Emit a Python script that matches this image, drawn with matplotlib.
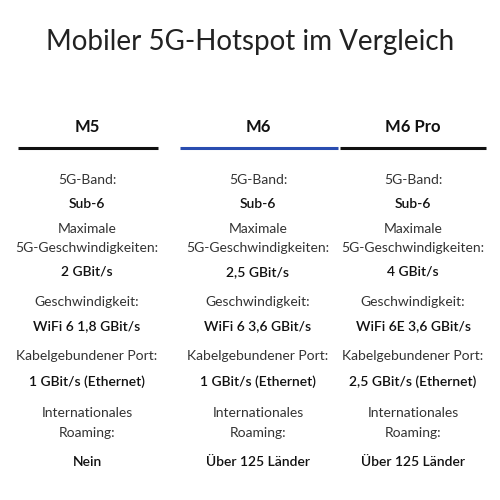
import matplotlib.pyplot as plt

plt.rcParams['font.family'] = ['Lato', 'DejaVu Sans']

title = "Mobiler 5G-Hotspot im Vergleich"
models = ["M5", "M6", "M6 Pro"]
line_colors = ["#111111", "#2a4db0", "#111111"]
labels = [["5G-Band:"], ["Maximale", "5G-Geschwindigkeiten:"], ["Geschwindigkeit:"],
          ["Kabelgebundener Port:"], ["Internationales", "Roaming:"]]
values = [
    ["Sub-6", "Sub-6", "Sub-6"],
    ["2 GBit/s", "2,5 GBit/s", "4 GBit/s"],
    ["WiFi 6 1,8 GBit/s", "WiFi 6 3,6 GBit/s", "WiFi 6E 3,6 GBit/s"],
    ["1 GBit/s (Ethernet)", "1 GBit/s (Ethernet)", "2,5 GBit/s (Ethernet)"],
    ["Nein", "Über 125 Länder", "Über 125 Länder"],
]

col_x = [87, 258, 413]
col_span = [(18, 158), (180, 338), (340, 486)]
label_y = [[180], [229, 248], [302], [356], [413, 433]]
value_y = [204, 272, 326, 382, 462]

fig = plt.figure(figsize=(5, 5), dpi=100)
ax = fig.add_axes([0, 0, 1, 1])
ax.set_xlim(0, 500)
ax.set_ylim(500, 0)
ax.axis("off")

ax.text(250, 42, title, ha="center", va="center", fontsize=20, color="#222222", fontweight="normal")

for i, m in enumerate(models):
    ax.text(col_x[i], 127, m, ha="center", va="center", fontsize=12, fontweight="bold", color="#111111")
    ax.plot(col_span[i], [148, 148], color=line_colors[i], lw=2.2, solid_capstyle="butt")
    for r in range(len(labels)):
        for t, y in zip(labels[r], label_y[r]):
            ax.text(col_x[i], y, t, ha="center", va="center", fontsize=10, color="#333333")
        ax.text(col_x[i], value_y[r], values[r][i], ha="center", va="center", fontsize=10,
                fontweight="semibold", color="#111111")

fig.savefig("out.png", dpi=100)
